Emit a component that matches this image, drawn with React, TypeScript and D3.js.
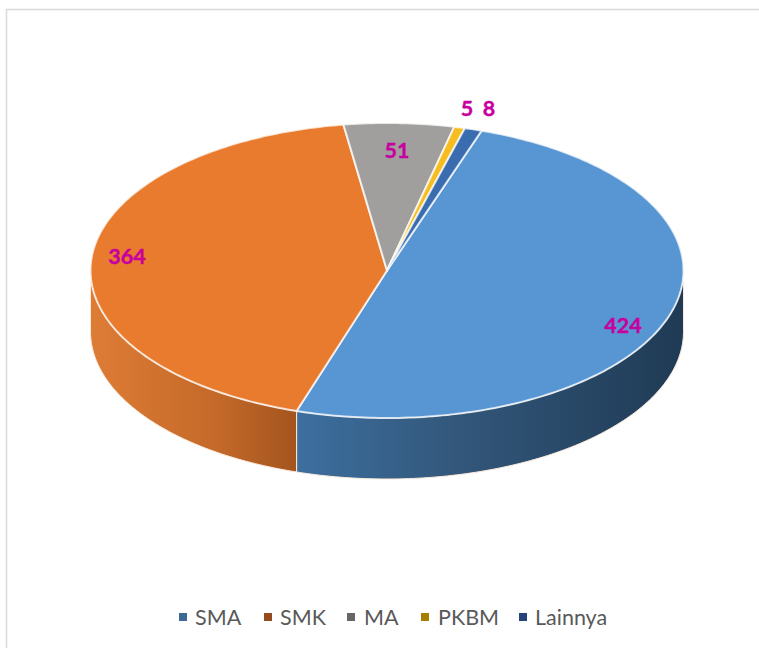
import React from "react";
import * as d3 from "d3";

const categories = ["SMA", "SMK", "MA", "PKBM", "Lainnya"];
const values = [424, 364, 51, 5, 8];
const topColors = ["#5796d3", "#e97b2e", "#a19f9d", "#f5bd1f", "#3a6cb0"];
const legendColors = ["#3d6a94", "#964b1c", "#666666", "#a67f00", "#264478"];
const labelPositions = [[623, 325], [127, 256], [397, 150], [467, 108], [489, 108]];
const legendSwatchXs = [179, 264, 347, 421, 519];
const legendTextXs = [195, 280, 364, 438, 535];

const W = 759, H = 648;
const cx = 387, cy = 270.5, rx = 296.5, ry = 147.5, depth = 61;
const startDeg = 18.6;
const rad = (d: number) => (d * Math.PI) / 180;

const pie = d3.pie<number>().sort(null).startAngle(rad(startDeg)).endAngle(rad(startDeg + 360));
const arcs = pie(values);
const projX = (a: number) => cx + rx * Math.sin(a);
const projY = (a: number) => cy - ry * Math.cos(a);

function topPath(a0: number, a1: number) {
  const n = Math.max(4, Math.ceil((a1 - a0) * 60));
  const p = d3.path();
  p.moveTo(cx, cy);
  d3.range(n + 1).forEach((i) => {
    const a = a0 + ((a1 - a0) * i) / n;
    p.lineTo(projX(a), projY(a));
  });
  p.closePath();
  return p.toString();
}
function sidePath(a0: number, a1: number) {
  const s = Math.max(a0, Math.PI / 2);
  const e = Math.min(a1, (3 * Math.PI) / 2);
  if (e <= s) return null;
  const n = Math.ceil((e - s) * 60);
  const pts = d3.range(n + 1).map((i) => s + ((e - s) * i) / n);
  const line = d3.line<[number, number]>();
  const upper = pts.map((a) => [projX(a), projY(a)] as [number, number]);
  const lower = pts.slice().reverse().map((a) => [projX(a), projY(a) + depth] as [number, number]);
  return line([...upper, ...lower]) + "Z";
}

export default function App() {
  return (
    <svg width={W} height={H} style={{ position: "absolute", left: 0, top: 0 }}>
      <defs>
        <linearGradient id="g0" gradientUnits="userSpaceOnUse" x1={295} x2={684} y1={0} y2={0}>
          <stop offset="0" stopColor="#3d6f9f" />
          <stop offset="0.4" stopColor="#33587c" />
          <stop offset="1" stopColor="#1f3a54" />
        </linearGradient>
        <linearGradient id="g1" gradientUnits="userSpaceOnUse" x1={91} x2={295} y1={0} y2={0}>
          <stop offset="0" stopColor="#dd7c35" />
          <stop offset="0.6" stopColor="#c56a2a" />
          <stop offset="1" stopColor="#a4551e" />
        </linearGradient>
      </defs>
      <rect x={6.5} y={9.5} width={W} height={H} fill="#fff" stroke="#d9d9d9" strokeWidth={1.5} />
      {arcs.map((d, i) => {
        const p = sidePath(d.startAngle, d.endAngle);
        return p ? <path key={i} d={p} fill={`url(#g${i})`} stroke="#fbe9dc" strokeWidth={1} /> : null;
      })}
      {arcs.map((d, i) => (
        <path key={i} d={topPath(d.startAngle, d.endAngle)} fill={topColors[i]} stroke="#ffffff" strokeOpacity={0.75} strokeWidth={2} strokeLinejoin="round" />
      ))}
      {categories.map((c, i) => (
        <text key={c} x={labelPositions[i][0]} y={labelPositions[i][1]} textAnchor="middle" dominantBaseline="central"
          fontFamily="Lato, 'Open Sans', sans-serif" fontWeight={700} fontSize={21.5} fill="#c800a0" stroke="#c800a0" strokeWidth={0.4}>{values[i]}</text>
      ))}
      {categories.map((c, i) => (
        <g key={c}>
          <rect x={legendSwatchXs[i]} y={613} width={8} height={8} fill={legendColors[i]} />
          <text x={legendTextXs[i]} y={617} dominantBaseline="central" fontFamily="Lato, 'Open Sans', sans-serif" fontSize={21.5} fill="#595959">{c}</text>
        </g>
      ))}
    </svg>
  );
}
